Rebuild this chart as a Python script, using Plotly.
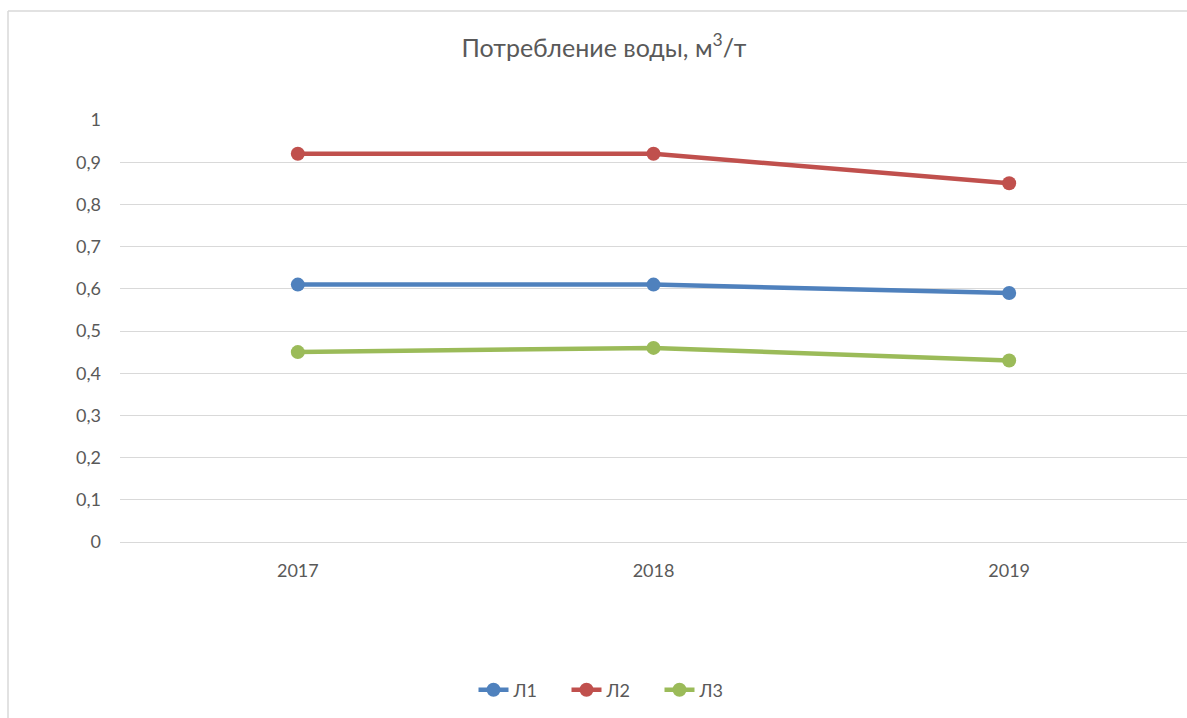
import plotly.graph_objects as go

years = ["2017", "2018", "2019"]
l1 = [0.61, 0.61, 0.59]
l2 = [0.92, 0.92, 0.85]
l3 = [0.45, 0.46, 0.43]
series_names = ["Л1", "Л2", "Л3"]
series_colors = ["#4F81BD", "#C0504D", "#9BBB59"]

fig = go.Figure()
for name, vals, col in zip(series_names, [l1, l2, l3], series_colors):
    fig.add_trace(go.Scatter(
        x=years, y=vals, name=name, mode="lines+markers",
        line=dict(color=col, width=4.5),
        marker=dict(color=col, size=14),
    ))

W, H = 1187, 718
PL, PR, PT, PB = 120, 1187, 120, 542  # plot area in px
fig.update_layout(
    width=W, height=H,
    margin=dict(l=PL, r=W - PR, t=PT, b=H - PB),
    paper_bgcolor="white", plot_bgcolor="white",
    separators=", ",
    font=dict(family="Lato, Open Sans, sans-serif", color="#595959", size=18),
    title=dict(text="Потребление воды, м<sup>3</sup>/т", x=604 / W, xanchor="center",
               y=1 - 48 / H, yanchor="middle",
               font=dict(size=25, color="#595959")),
    xaxis=dict(type="category", range=[-0.5, 2.5], showgrid=False, showline=False,
               zeroline=False, ticks="", ticklabelstandoff=16, tickfont=dict(size=18)),
    yaxis=dict(range=[0, 1], tickvals=[0, 0.1, 0.2, 0.3, 0.4, 0.5, 0.6, 0.7, 0.8, 0.9, 1],
               showgrid=True, gridcolor="#D9D9D9", gridwidth=1,
               zeroline=True, zerolinecolor="#D9D9D9", zerolinewidth=1,
               showline=False, ticks="", ticklabelstandoff=18, tickfont=dict(size=18)),
    legend=dict(orientation="h", x=(613 - PL) / (PR - PL), xanchor="center",
                y=(PB - 690) / (PB - PT), yanchor="middle",
                entrywidth=48, entrywidthmode="pixels",
                font=dict(size=18, color="#595959"), traceorder="normal"),
    showlegend=True,
)
# chart-area border (top and left edges visible in the reference)
bx0 = (8 - PL) / (PR - PL)
by1 = (PB - 11) / (PB - PT)
by0 = (PB - 760) / (PB - PT)
fig.add_shape(type="line", xref="paper", yref="paper", x0=bx0, x1=1.1, y0=by1, y1=by1,
              line=dict(color="#D9D9D9", width=1.5), layer="below")
fig.add_shape(type="line", xref="paper", yref="paper", x0=bx0, x1=bx0, y0=by0, y1=by1,
              line=dict(color="#D9D9D9", width=1.5), layer="below")
fig.write_html("out.html", config={"displayModeBar": False},
               post_script="document.body.style.margin='0';document.body.style.overflow='hidden';")
